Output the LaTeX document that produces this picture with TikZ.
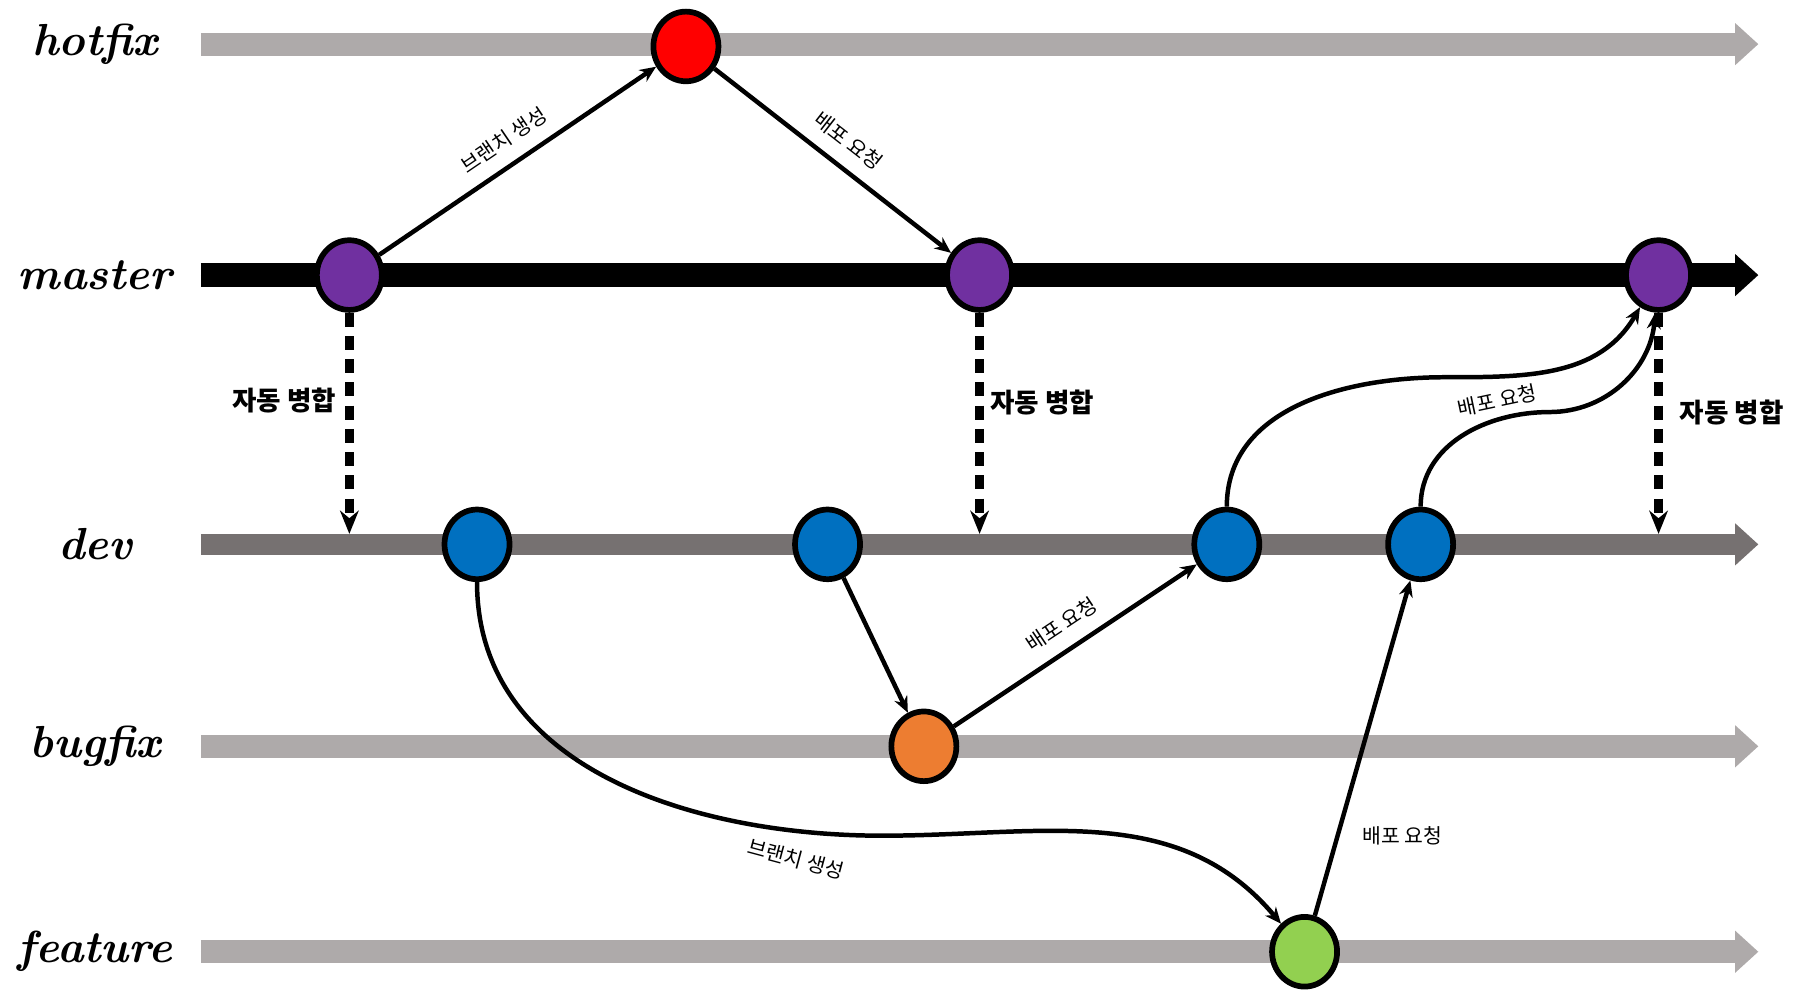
\documentclass[tikz,border=0pt]{standalone}
\usepackage{fontspec}
\newfontfamily\kr{Noto Sans CJK KR}
\usetikzlibrary{arrows.meta,positioning,shapes.geometric}

\definecolor{lanegray}{RGB}{174,170,170}
\definecolor{devgray}{RGB}{118,113,113}
\definecolor{cpurple}{RGB}{112,48,160}
\definecolor{cblue}{RGB}{0,112,192}
\definecolor{corange}{RGB}{237,125,49}
\definecolor{cgreen}{RGB}{146,208,80}

\tikzset{
  lane/.style={line width=#1, -{Triangle[length=0.2cm,width=0.35cm]}},
  lanelabel/.style={font=\fontsize{11}{13}\selectfont\bfseries\itshape, anchor=center},
  commit/.style={ellipse, draw=black, line width=1.4pt, fill=#1,
                 minimum width=0.56cm, minimum height=0.6cm, inner sep=0pt},
  flow/.style={-{Stealth[length=0.14cm,width=0.12cm]}, line width=1.1pt},
  merge/.style={-{Stealth[length=0.2cm,width=0.16cm]}, line width=2.2pt, dash pattern=on 0.12cm off 0.08cm},
  note/.style={font=\kr\fontsize{5}{6}\selectfont},
  mergenote/.style={font=\kr\bfseries\fontsize{6.5}{8}\selectfont},
}

\begin{document}
\begin{tikzpicture}[x=0.01cm,y=-0.01cm]
 \useasboundingbox (0,0) rectangle (1550,856);
 % lanes
 \foreach \name/\y/\col/\w in {hotfix/38/lanegray/0.2cm, bugfix/643/lanegray/0.2cm,
                               feature/820/lanegray/0.2cm, dev/469/devgray/0.18cm,
                               master/237/black/0.2cm} {
   \coordinate (\name-s) at (173,\y);
   \coordinate (\name-e) at (1515,\y);
   \draw[lane=\w, draw=\col, fill=\col] (\name-s) -- (\name-e);
   \node[lanelabel] (\name-l) at (82,\y) {\name};
 }
 % commits
 \node[commit=red]     (h1) at (591,40) {};
 \node[commit=cpurple] (m1) at (301,237) {};
 \node[commit=cpurple] (m2) at (844,237) {};
 \node[commit=cpurple] (m3) at (1429,237) {};
 \node[commit=cblue]   (d1) at (411,469) {};
 \node[commit=cblue]   (d2) at (713,469) {};
 \node[commit=cblue]   (d3) at (1057,469) {};
 \node[commit=cblue]   (d4) at (1224,469) {};
 \node[commit=corange] (b1) at (796,643) {};
 \node[commit=cgreen]  (f1) at (1124,820) {};
 % merge targets on dev
 \coordinate (t1) at (301,460);
 \coordinate (t2) at (844,460);
 \coordinate (t3) at (1429,460);
 \coordinate (c1) at (760,720);
 \coordinate (c2) at (1245,325);
 \coordinate (c3) at (1335,355);
 %
 \draw[flow] (m1) -- node[note, sloped, above] {브랜치 생성} (h1);
 \draw[flow] (h1) -- node[note, sloped, above] {배포 요청} (m2);
 \draw[merge] (m1) -- (t1);
 \draw[merge] (m2) -- (t2);
 \draw[merge] (m3) -- (t3);
 \node[mergenote] (ml1) at (245,345) {자동 병합};
 \node[mergenote] (ml2) at (898,347) {자동 병합};
 \node[mergenote] (ml3) at (1492,355) {자동 병합};
 \draw[flow] (d2) -- (b1);
 \draw[flow] (b1) -- node[note, sloped, above] {배포 요청} (d3);
 \draw[flow] (f1) -- (d4);
 \node[note] (fl) at (1208,720) {배포 요청};
 \draw[flow] (d1) to[out=-90,in=180] (c1) to[out=0,in=130] (f1);
 \node[note, rotate=-15] (cl1) at (686,740) {브랜치 생성};
 \draw[flow] (d3) to[out=90,in=180] (c2) to[out=0,in=-120] (m3);
 \draw[flow] (d4) to[out=90,in=180] (c3) to[out=0,in=-95] (m3);
 \node[note, rotate=12] (cl2) at (1290,345) {배포 요청};
\end{tikzpicture}
\end{document}
